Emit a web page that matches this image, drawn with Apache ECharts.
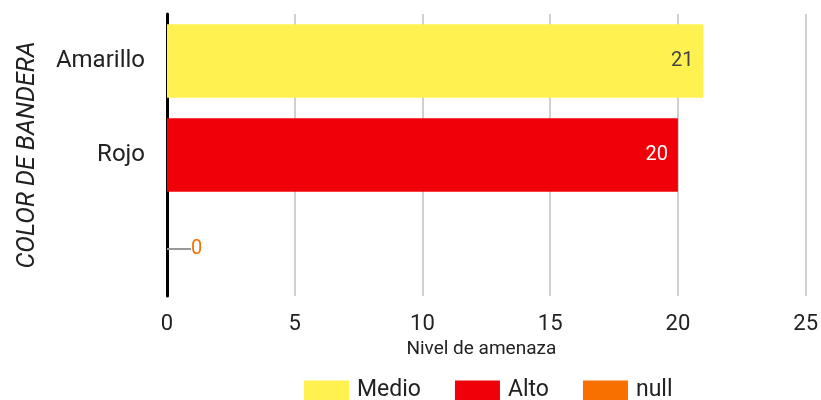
<!DOCTYPE html>
<html>
<head>
<meta charset="utf-8">
<script src="https://cdn.jsdelivr.net/npm/echarts@6/dist/echarts.min.js"></script>
<style>html,body{margin:0;padding:0;background:#fff}#c{width:821px;height:400px}</style>
</head>
<body>
<div id="c"></div>
<script>
var categories = ['Amarillo', 'Rojo', ''];
var medio = [21, null, null];
var alto = [null, 20, null];
var nulo = [null, null, 0];
var xTicks = [0, 5, 10, 15, 20, 25];

var chart = echarts.init(document.getElementById('c'));
var font = 'Roboto';
chart.setOption({
  animation: false,
  textStyle: { fontFamily: font },
  grid: { left: 167, right: 13, top: 14, bottom: 104, containLabel: false },
  legend: {
    top: 379,
    left: 304,
    padding: 0,
    itemWidth: 45, itemHeight: 20, itemGap: 34,
    icon: 'rect',
    textStyle: { fontSize: 23, lineHeight: 20, color: '#222', fontFamily: font, padding: [0, 0, 0, 3] },
    data: ['Medio', 'Alto', 'null']
  },
  xAxis: {
    type: 'value', min: xTicks[0], max: xTicks[xTicks.length - 1], interval: 5,
    name: 'Nivel de amenaza', nameLocation: 'middle', nameGap: 38,
    nameTextStyle: { fontSize: 19, color: '#222', padding: [0, 10, 0, 0] },
    axisLine: { show: false }, axisTick: { show: false },
    axisLabel: { fontSize: 22, color: '#222', margin: 17 },
    splitLine: { show: true, lineStyle: { color: '#d0d0d0', width: 2 } }
  },
  yAxis: {
    type: 'category', inverse: true, data: categories,
    name: 'COLOR DE BANDERA', nameLocation: 'middle', nameGap: 127, nameRotate: 90,
    nameTextStyle: { fontSize: 25, fontStyle: 'italic', color: '#222' },
    axisLine: { show: true, lineStyle: { color: '#000', width: 3 } },
    axisTick: { show: false },
    axisLabel: { fontSize: 24, color: '#222', margin: 22 }
  },
  series: [
    { name: 'Medio', type: 'bar', stack: 't', data: medio, barCategoryGap: '22%',
      itemStyle: { color: '#FFF250' },
      label: { show: true, position: 'insideRight', fontSize: 20, color: '#444', distance: 10 } },
    { name: 'Alto', type: 'bar', stack: 't', data: alto,
      itemStyle: { color: '#F00008' },
      label: { show: true, position: 'insideRight', fontSize: 20, color: '#fff', distance: 10 } },
    { name: 'null', type: 'bar', stack: 't', data: nulo,
      itemStyle: { color: '#F77000' },
      label: { show: true, position: 'right', distance: 0, fontSize: 20, color: '#F77000' },
      labelLayout: { dx: 24 },
      labelLine: { show: true, lineStyle: { color: '#999', width: 2 } } }
  ]
});
</script>
</body>
</html>
